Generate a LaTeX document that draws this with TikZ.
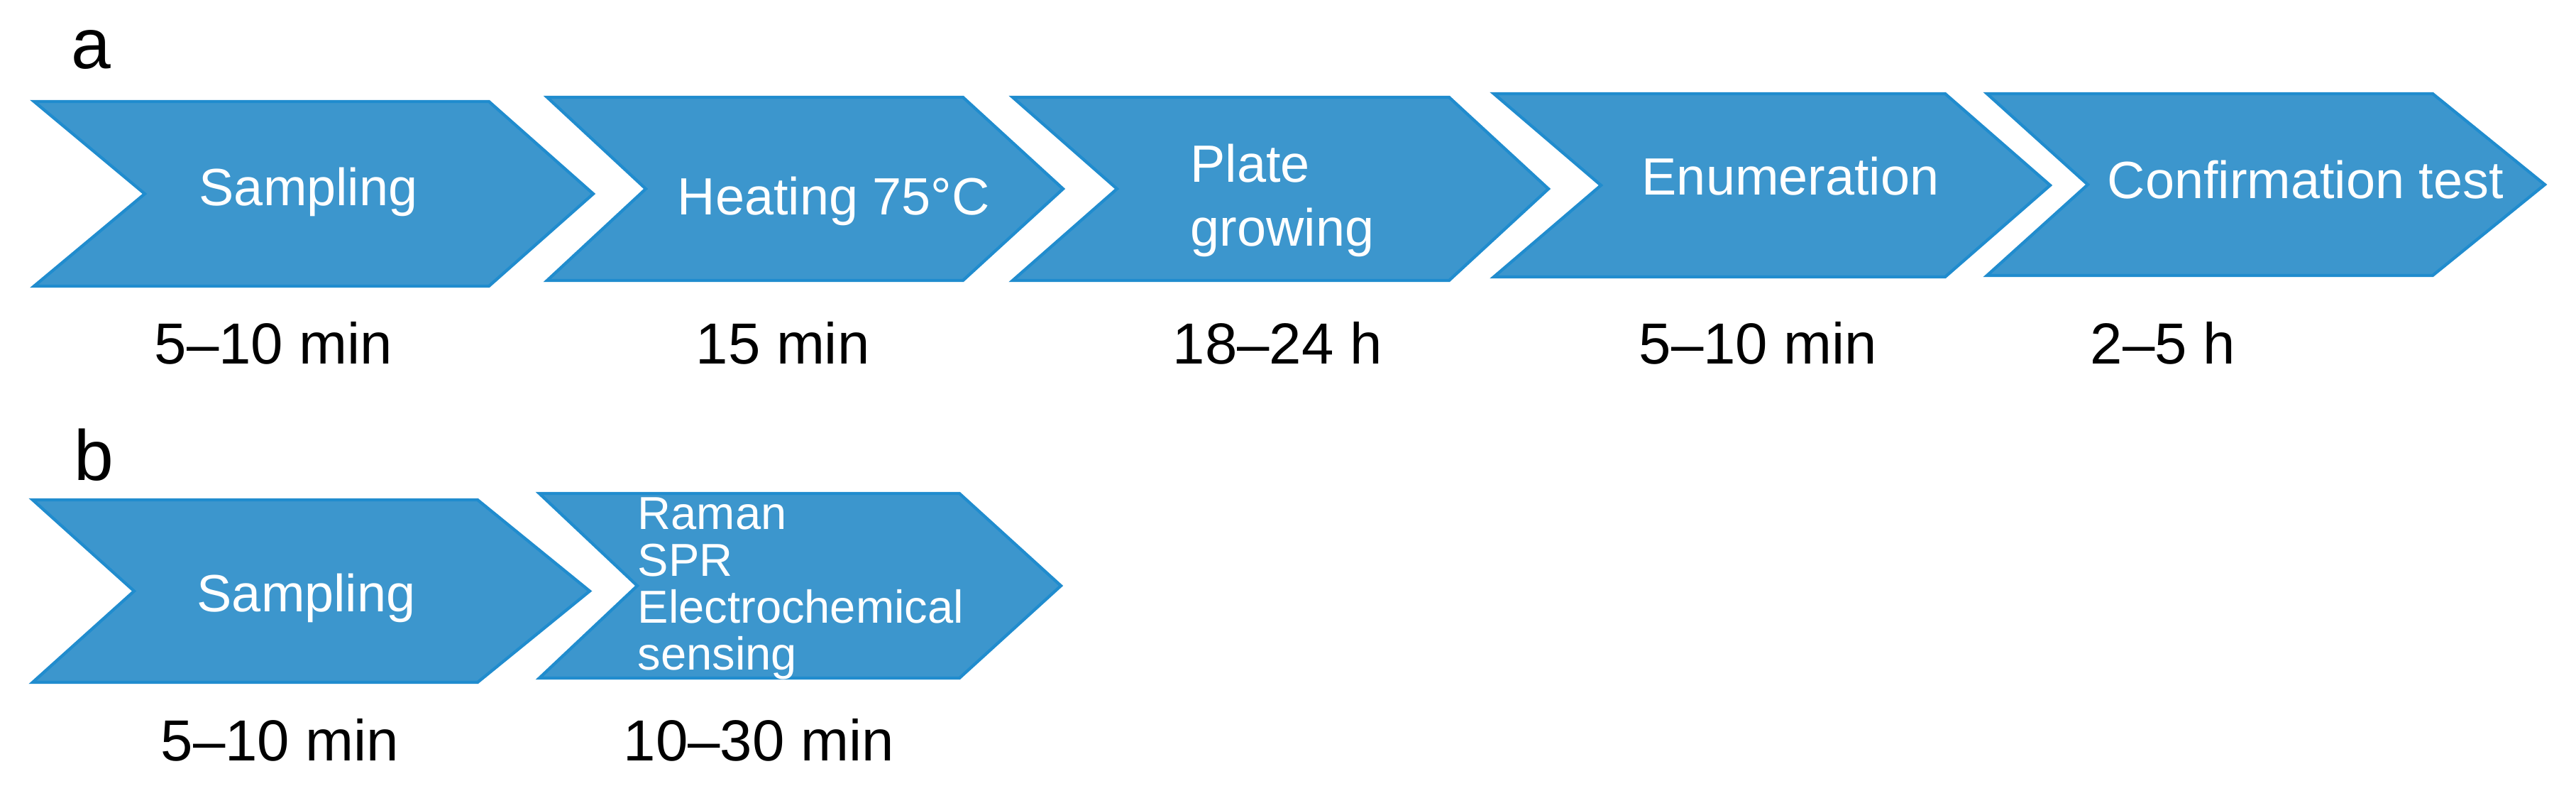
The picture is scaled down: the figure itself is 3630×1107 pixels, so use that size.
\documentclass[tikz,border=0pt]{standalone}
\usepackage{fontspec}
\setmainfont{Liberation Sans}
\definecolor{chevfill}{RGB}{60,150,205}
\definecolor{chevedge}{RGB}{32,140,206}
\newcommand\chevshape[7]{%
  \path[chev] (#2,#6) -- (#4,#6) -- (#5,{(#6+#7)/2}) -- (#4,#7) -- (#2,#7) -- (#3,{(#6+#7)/2}) -- cycle;
  \coordinate (#1) at ({(#3+#4)/2},{(#6+#7)/2});}
\begin{document}
\begin{tikzpicture}[x=0.01cm,y=-0.01cm,
  chev/.style={fill=chevfill, draw=chevedge, line width=1.2pt, line join=miter},
  intext/.style={text=white, font=\fontsize{21}{25.6}\selectfont, inner sep=0pt, anchor=base west},
  multitext/.style={text=white, inner sep=0pt, anchor=north west, align=left},
  timetext/.style={text=black, font=\fontsize{23.2}{28}\selectfont, inner sep=0pt, anchor=base west},
  paneltext/.style={text=black, font=\fontsize{28.5}{34}\selectfont, inner sep=0pt, anchor=base west}]
\useasboundingbox (0,0) rectangle (3630,1107);
\fill[white] (0,0) rectangle (3630,1107);
% panel a
\node[paneltext] (la) at (100,97) {a};
\chevshape{ca1}{48}{204}{689}{836}{143}{403}
\chevshape{ca2}{771}{910}{1357}{1498}{137}{395}
\chevshape{ca3}{1427}{1574}{2042}{2182}{137}{395}
\chevshape{ca4}{2105}{2256}{2741}{2889}{132}{390}
\chevshape{ca5}{2800}{2942}{3428}{3586}{132}{388}
\node[intext] (ta1) at (280,290) {Sampling};
\node[intext] (ta2) at (954,303) {Heating 75°C};
\node[multitext, font=\fontsize{21}{25.6}\selectfont] (ta3) at (1677,202) {Plate\\growing};
\node[intext] (ta4) at (2313,275) {Enumeration};
\node[intext] (ta5) at (2969,280) {Confirmation test};
\node[timetext] (da1) at (217,513) {5–10 min};
\node[timetext] (da2) at (980,513) {15 min};
\node[timetext] (da3) at (1652,513) {18–24 h};
\node[timetext] (da4) at (2309,513) {5–10 min};
\node[timetext] (da5) at (2945,513) {2–5 h};
% panel b
\node[paneltext] (lb) at (104,677) {b};
\chevshape{cb1}{46}{189}{673}{831}{704}{961}
\chevshape{cb2}{760}{898}{1352}{1495}{695}{955}
\node[intext] (tb1) at (277,862) {Sampling};
\node[multitext, font=\fontsize{18.5}{18.8}\selectfont] (tb2) at (898,700) {Raman\\SPR\\Electrochemical\\sensing};
\node[timetext] (db1) at (226,1071) {5–10 min};
\node[timetext] (db2) at (878,1071) {10–30 min};
\end{tikzpicture}
\end{document}
